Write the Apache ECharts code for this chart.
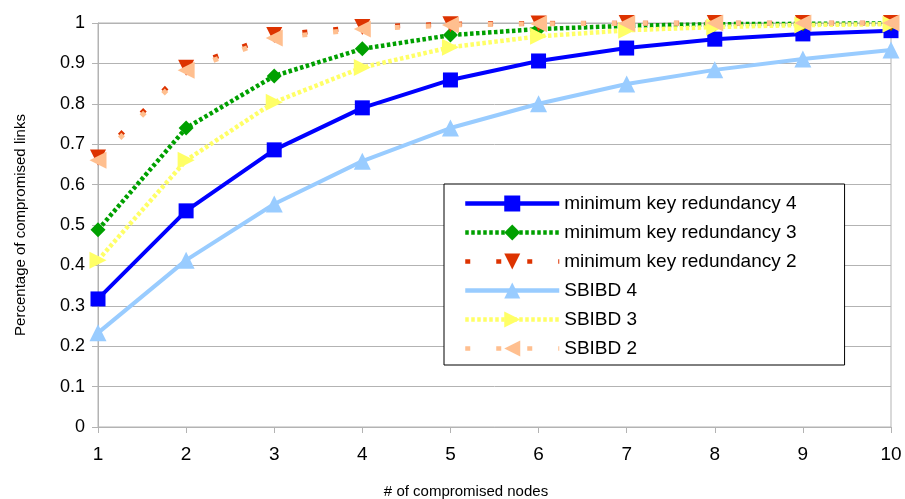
<!DOCTYPE html>
<html><head><meta charset="utf-8">
<script src="https://cdn.jsdelivr.net/npm/echarts@6/dist/echarts.min.js"></script>
<style>html,body{margin:0;padding:0;background:#fff}#c{width:905px;height:499px}</style>
</head><body><div id="c"></div>
<script>
const nodes = [1,2,3,4,5,6,7,8,9,10];
const mkr4 = [0.317,0.535,0.686,0.790,0.859,0.906,0.938,0.960,0.973,0.981];
const mkr3 = [0.488,0.740,0.869,0.936,0.970,0.985,0.993,0.997,0.998,0.999];
const mkr2 = [0.667,0.889,0.970,0.990,0.997,0.999,1.000,1.000,1.000,1.000];
const sb4  = [0.233,0.413,0.552,0.658,0.740,0.800,0.849,0.884,0.911,0.933];
const sb3  = [0.413,0.660,0.804,0.890,0.940,0.967,0.982,0.990,0.995,0.997];
const sb2  = [0.660,0.883,0.963,0.985,0.995,0.998,0.999,1.000,1.000,1.000];
const names = ['minimum key redundancy 4','minimum key redundancy 3','minimum key redundancy 2','SBIBD 4','SBIBD 3','SBIBD 2'];
const yTicks = {min:0,max:1,interval:0.1};

const pts = a => a.map((v,i)=>[nodes[i],v]);
const mk = (name,data,color,width,type,symbol,size,rot) => ({
  name, type:'line', data:pts(data), symbol, symbolSize:size, symbolRotate:rot||0,
  showSymbol:true, animation:false,
  lineStyle:{color,width,type,cap:'butt'}, itemStyle:{color,borderWidth:0}
});
const chart = echarts.init(document.getElementById('c'),null,{renderer:'canvas'});
chart.setOption({
  backgroundColor:'#fff',
  animation:false,
  grid:{left:98,right:14,top:23,bottom:72,containLabel:false,outerBoundsMode:'none',show:true,borderColor:'#b3b3b3',borderWidth:1,backgroundColor:'transparent'},
  xAxis:{type:'value',min:1,max:10,interval:1,
    name:'# of compromised nodes',nameLocation:'middle',nameGap:57,
    nameTextStyle:{fontFamily:'Liberation Sans',fontSize:15,color:'#000',padding:[0,57,0,0]},
    axisLine:{lineStyle:{color:'#b3b3b3',width:1}},
    axisTick:{show:true,length:6,lineStyle:{color:'#b3b3b3'}},
    axisLabel:{fontFamily:'Liberation Sans',fontSize:19,color:'#000',margin:18},
    splitLine:{show:false}},
  yAxis:{type:'value',min:yTicks.min,max:yTicks.max,interval:yTicks.interval,
    name:'Percentage of compromised links',nameLocation:'middle',nameGap:70,
    nameTextStyle:{fontFamily:'Liberation Sans',fontSize:15,color:'#000'},
    axisLine:{show:true,lineStyle:{color:'#b3b3b3',width:1}},
    axisTick:{show:true,length:6,lineStyle:{color:'#b3b3b3'}},
    axisLabel:{fontFamily:'Liberation Sans',fontSize:18,color:'#000',margin:13},
    splitLine:{show:true,lineStyle:{color:'#b3b3b3',width:1}}},
  legend:{orient:'vertical',left:444,top:184,
    backgroundColor:'#fff',borderColor:'#000',borderWidth:1,borderRadius:0,
    padding:[10,48,7,19],itemGap:10,itemWidth:94,itemHeight:20,
    lineStyle:{width:4.5},
    textStyle:{fontFamily:'Liberation Sans',fontSize:19,color:'#000'},
    data:names},
  series:[
    mk(names[0],mkr4,'#0000ff',4,'solid','rect',15),
    mk(names[1],mkr3,'#00a000',4.5,[3.5,2.5],'diamond',15),
    mk(names[2],mkr2,'#dd3300',5,[5,26],'triangle',16,180),
    mk(names[3],sb4,'#99ccff',4,'solid','triangle',17),
    mk(names[4],sb3,'#ffff66',4.5,[3.5,2.5],'triangle',17,-90),
    mk(names[5],sb2,'#ffbf8f',5,[5,26],'triangle',17,90)
  ]
});
</script></body></html>
